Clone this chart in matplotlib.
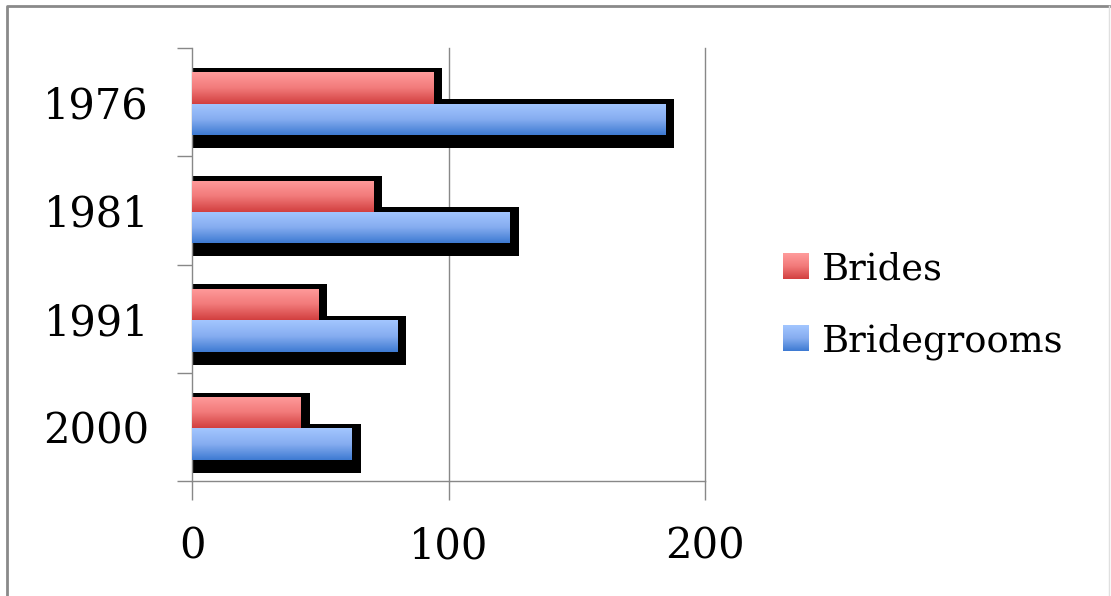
import numpy as np
import matplotlib
matplotlib.use("Agg")
import matplotlib.pyplot as plt
from matplotlib.colors import LinearSegmentedColormap
from matplotlib.lines import Line2D

# values
years = ["1976", "1981", "1991", "2000"]
brides = [94.1, 70.7, 49.3, 42.4]
grooms = [184.6, 123.8, 80.0, 62.3]
series_names = ["Brides", "Bridegrooms"]

plt.rcParams['font.family'] = ['DejaVu Serif']

fig = plt.figure(figsize=(11.11, 5.96), dpi=100)
ax = fig.add_axes([192/1111, 1-481/596, (705-192)/1111, (481-48)/596])

red_cmap = LinearSegmentedColormap.from_list("red", ["#ff9c9c", "#f27a7a", "#d23f3f"])
blue_cmap = LinearSegmentedColormap.from_list("blue", ["#a3c6ff", "#86adf0", "#3d7ad2"])
grad = np.linspace(0, 1, 256).reshape(-1, 1)

pos = np.arange(len(years))
h = 0.29
off_b, off_g = -0.13, 0.16
# black drop shadow behind each bar
sh_up, sh_down, sh_right = 0.042, 0.12, 3.5
for vals, off in [(brides, off_b), (grooms, off_g)]:
    ax.barh(pos + off + (sh_down - sh_up) / 2, np.array(vals) + sh_right,
            height=h + sh_up + sh_down, color="black", zorder=2)

for vals, off, cmap, mid in [(brides, off_b, red_cmap, "#e86a6a"),
                             (grooms, off_g, blue_cmap, "#7aa6ec")]:
    bars = ax.barh(pos + off, vals, height=h, color=mid, zorder=3)
    for b in bars:
        x0, y0 = b.get_x(), b.get_y()
        im = ax.imshow(grad, cmap=cmap, aspect='auto', zorder=3.5,
                       extent=[x0, x0 + b.get_width(), y0 + b.get_height(), y0],
                       origin='upper')
        im.set_clip_path(b)

ax.set_xlim(0, 200)
ax.set_ylim(len(years) - 0.5, -0.5)

ax.set_xticks([0, 100, 200])
ax.set_xticklabels(["0", "100", "200"], fontsize=30)
ax.set_yticks(pos)
ax.set_yticklabels(years, fontsize=30)
ax.set_yticks(np.arange(len(years) + 1) - 0.5, minor=True)
ax.tick_params(axis='y', which='major', length=0, pad=31)
ax.tick_params(axis='y', which='minor', length=11, color="#888888", width=1)
ax.tick_params(axis='x', which='major', length=14, color="#888888", width=1, pad=18)

for s in ["top", "right"]:
    ax.spines[s].set_visible(False)
for s in ["left", "bottom"]:
    ax.spines[s].set_color("#888888")
    ax.spines[s].set_linewidth(1)
for gx in [100, 200]:
    ax.axvline(gx, color="#888888", lw=1, zorder=1, clip_on=False)

# legend drawn by hand with gradient squares
for i, (name, cmap) in enumerate(zip(series_names, [red_cmap, blue_cmap])):
    top = 253 + i * 72
    lax = fig.add_axes([783/1111, 1 - (top + 26)/596, 26/1111, 26/596])
    lax.imshow(grad, cmap=cmap, aspect='auto')
    lax.axis("off")
    fig.text(822/1111, 1 - (top + 27)/596, name, fontsize=26.5, va='baseline', ha='left')

# outer chart border (left and top strong, right faint)
L, T, R = 7/1111, 1 - 6/596, 1109/1111
fig.lines.append(Line2D([L, L, R], [0, T, T], transform=fig.transFigure,
                        color="#8a8a8a", lw=2))
fig.lines.append(Line2D([R, R], [0, T], transform=fig.transFigure,
                        color="#e0e0e0", lw=1))

fig.savefig("out.png", dpi=100)
